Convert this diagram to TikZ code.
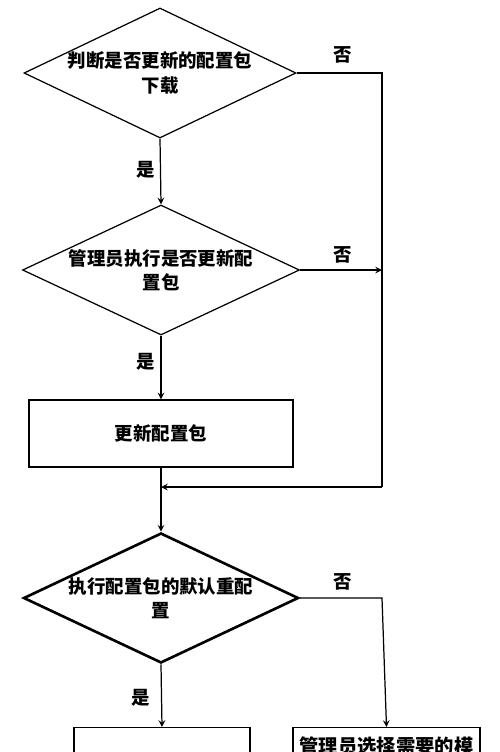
\documentclass[tikz,border=0pt]{standalone}
\usepackage{fontspec}
\newfontfamily\cjk{Noto Sans CJK SC}
\usetikzlibrary{shapes.geometric}
\begin{document}
\begin{tikzpicture}[>=stealth,line width=0.7pt,
  every node/.style={font=\cjk\bfseries\fontsize{10.5}{13.7}\selectfont},
  dia/.style={draw,diamond,inner sep=0pt},
  box/.style={draw,rectangle,inner sep=0pt},
  txt/.style={align=center,inner sep=0pt}]
\useasboundingbox (0,0) rectangle (10,-15.04);
\clip (0,0) rectangle (10,-15.04);
% decisions
\node[dia,minimum width=5.44cm,minimum height=2.6cm] (d1) at (3.2,-1.46) {};
\node[txt] (t1) at (d1) {判断是否更新的配置包\\下载};
\node[dia,minimum width=5.54cm,minimum height=2.6cm] (d2) at (3.22,-5.4) {};
\node[txt] (t2) at (d2) {管理员执行是否更新配\\置包};
\node[box,minimum width=5.28cm,minimum height=1.34cm] (b1) at (3.22,-8.67) {更新配置包};
\node[dia,line width=1.5pt,minimum width=5.5cm,minimum height=2.6cm] (d3) at (3.22,-11.96) {};
\node[txt] (t3) at (d3) {执行配置包的默认重配\\置};
\node[box,anchor=north,minimum width=3.52cm,minimum height=1.6cm] (b2) at (3.24,-14.54) {};
\node[box,anchor=north,minimum width=3.74cm,minimum height=1.6cm] (b3) at (7.73,-14.54) {};
\node[txt,anchor=north,font=\cjk\bfseries\fontsize{11}{13.7}\selectfont] (t4) at (7.73,-14.72) {管理员选择需要的模};
% bends
\coordinate (c1) at (7.64,-1.46);
\coordinate (c2) at (7.64,-9.74);
\coordinate (c3) at (7.64,-5.4);
\coordinate (c4) at (7.64,-11.96);
\coordinate (m) at (3.22,-9.74);
% arrows
\draw[->] (d1.south) -- (d2.north);
\draw[->] (d2.south) -- (b1.north);
\draw[->] (b1.south) -- (d3.north);
\draw (d1.east) -- (c1) -- (c2);
\draw[->] (c2) -- (m);
\draw[->] (d2.east) -- (c3);
\draw[->] (d3.east) -- (c4) -- (b3.north);
\draw[->] (d3.south) -- (b2.north);
% labels
\node (y1) at (2.92,-3.4) {是};
\node (y2) at (2.92,-7.24) {是};
\node (y3) at (2.82,-13.96) {是};
\node (n1) at (6.86,-1.1) {否};
\node (n2) at (6.86,-5.1) {否};
\node (n3) at (6.86,-11.64) {否};
\end{tikzpicture}
\end{document}
